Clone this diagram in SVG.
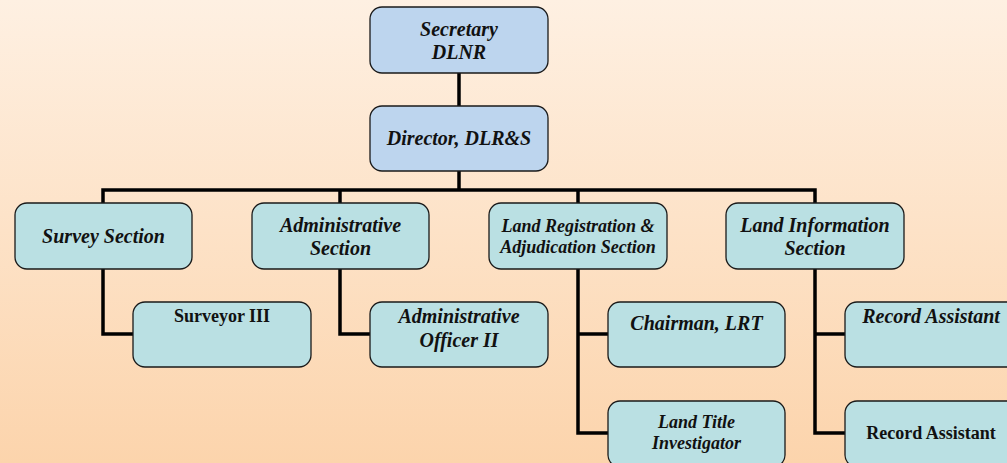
<svg xmlns="http://www.w3.org/2000/svg" width="1007" height="463" viewBox="0 0 1007 463">
<defs>
<linearGradient id="bg" x1="0" y1="0" x2="0" y2="1">
<stop offset="0" stop-color="#FEF0E2"/>
<stop offset="1" stop-color="#FCD4AC"/>
</linearGradient>
</defs>
<style>
.top{fill:#BDD5EE;stroke:#1a1a1a;stroke-width:1.3}
.box{fill:#BAE0E3;stroke:#1a1a1a;stroke-width:1.3}
.c{fill:none;stroke:#000;stroke-width:3.5;stroke-linejoin:miter}
text{font-weight:bold;fill:#111;text-anchor:middle}
.i{font-style:italic;font-size:20px}
.s{font-style:italic;font-size:18px}
.u{font-size:18px}
</style>
<rect width="1007" height="463" fill="url(#bg)"/>
<g id="connectors">
<path class="c" d="M459,73 V106"/>
<path class="c" d="M459,171 V190"/>
<path class="c" d="M103,204 V190 H815 V204"/>
<path class="c" d="M340,190 V204"/>
<path class="c" d="M578,190 V204"/>
<path class="c" d="M103,269 V334 H133"/>
<path class="c" d="M340,269 V334 H370"/>
<path class="c" d="M578,269 V433 H608"/>
<path class="c" d="M578,334 H608"/>
<path class="c" d="M815,269 V433 H845"/>
<path class="c" d="M815,334 H845"/>
</g>
<g font-family="Liberation Serif, DejaVu Serif, serif">
<g id="secretary">
<rect class="top" x="370" y="7" width="178" height="66" rx="12"/>
<text class="i" x="459" y="36">Secretary</text>
<text class="i" x="459" y="59">DLNR</text>
</g>
<g id="director">
<rect class="top" x="370" y="106" width="178" height="65" rx="12"/>
<text class="i" x="459" y="145">Director, DLR&amp;S</text>
</g>
<g id="survey-section">
<rect class="box" x="15" y="203" width="177" height="66" rx="12"/>
<text class="i" x="103.5" y="243">Survey Section</text>
</g>
<g id="administrative-section">
<rect class="box" x="252" y="203" width="177" height="66" rx="12"/>
<text class="i" x="340.5" y="232">Administrative</text>
<text class="i" x="340.5" y="255">Section</text>
</g>
<g id="land-registration-section">
<rect class="box" x="489" y="203" width="178" height="66" rx="12"/>
<text class="s" x="578" y="232">Land Registration &amp;</text>
<text class="s" x="578" y="253">Adjudication Section</text>
</g>
<g id="land-information-section">
<rect class="box" x="726" y="203" width="178" height="66" rx="12"/>
<text class="i" x="815" y="232">Land Information</text>
<text class="i" x="815" y="255">Section</text>
</g>
<g id="surveyor-iii">
<rect class="box" x="133" y="302" width="178" height="65" rx="12"/>
<text class="u" x="222" y="322">Surveyor III</text>
</g>
<g id="administrative-officer">
<rect class="box" x="370" y="302" width="178" height="65" rx="12"/>
<text class="i" x="459" y="323">Administrative</text>
<text class="i" x="459" y="347">Officer II</text>
</g>
<g id="chairman-lrt">
<rect class="box" x="608" y="302" width="177" height="65" rx="12"/>
<text class="i" x="696.5" y="330">Chairman, LRT</text>
</g>
<g id="land-title-investigator">
<rect class="box" x="608" y="401" width="177" height="66" rx="12"/>
<text class="s" x="696.5" y="428">Land Title</text>
<text class="s" x="696.5" y="449">Investigator</text>
</g>
<g id="record-assistant-1">
<rect class="box" x="845" y="302" width="177" height="65" rx="12"/>
<text class="i" x="931" y="323">Record Assistant</text>
</g>
<g id="record-assistant-2">
<rect class="box" x="845" y="401" width="177" height="66" rx="12"/>
<text class="u" x="931" y="439">Record Assistant</text>
</g>
</g>
</svg>
